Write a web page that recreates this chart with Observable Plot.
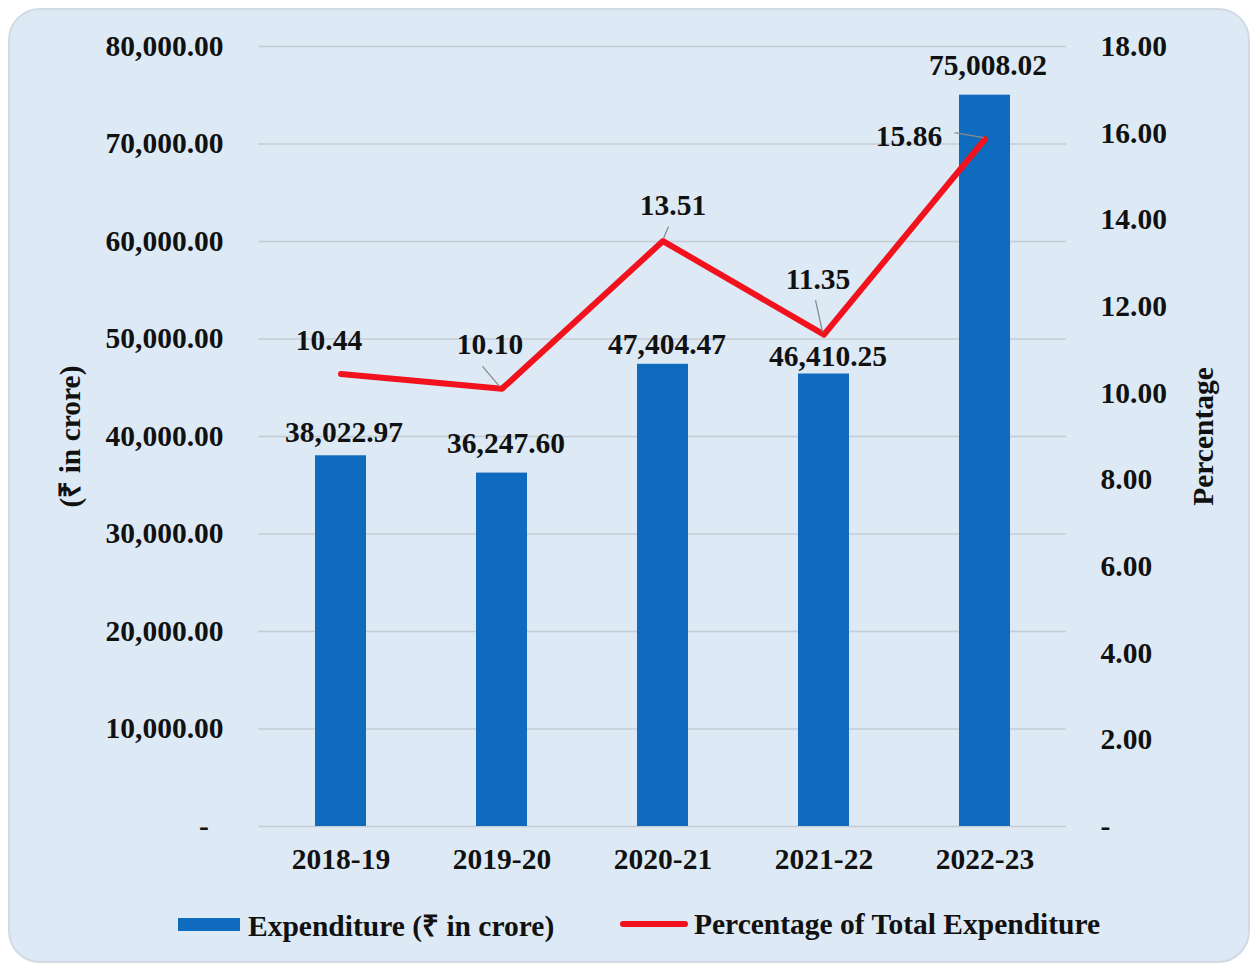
<!DOCTYPE html>
<html><head><meta charset="utf-8">
<script src="https://cdn.jsdelivr.net/npm/d3@7"></script>
<script src="https://cdn.jsdelivr.net/npm/@observablehq/plot@0.6"></script>
<style>
html,body{margin:0;padding:0;background:#fff;}
body{width:1256px;height:967px;overflow:hidden;position:relative;font-family:"Liberation Serif","Times New Roman",serif;}
#panel{position:absolute;left:8px;top:8px;width:1238px;height:951px;background:#dde9f5;border:2px solid #d2dae3;border-radius:32px;}
#chart{position:absolute;left:0;top:0;}
.lg{position:absolute;top:904px;height:40px;display:flex;align-items:center;font-size:29.5px;font-weight:bold;color:#111;white-space:nowrap;}
.sw-bar{width:62px;height:13px;margin-right:8px;}
.sw-line{width:68px;height:6px;border-radius:3px;margin-right:6px;}
</style></head><body>
<div id="panel"></div>
<div id="chart"></div>
<div class="lg" id="lg0" style="left:178px"><div class="sw-bar" id="sw0"></div><span id="t0"></span></div>
<div class="lg" id="lg1" style="left:620px"><div class="sw-line" id="sw1"></div><span id="t1"></span></div>
<script>
// ---- data ----
const years = ["2018-19", "2019-20", "2020-21", "2021-22", "2022-23"];
const expenditure = [38022.97, 36247.60, 47404.47, 46410.25, 75008.02];
const percentage = [10.44, 10.10, 13.51, 11.35, 15.86];
const leftTicks = [0, 10000, 20000, 30000, 40000, 50000, 60000, 70000, 80000];
const rightTicks = [0, 2, 4, 6, 8, 10, 12, 14, 16, 18];
const seriesNames = ["Expenditure (\u20B9 in crore)", "Percentage of Total Expenditure"];
const leftTitle = "(\u20B9 in crore)";
const rightTitle = "Percentage";

// ---- layout config ----
const barColor = "#0f6bbd";
const lineColor = "#f2121e";
const barLabelOffsets = [[3,-23],[4,-30],[4,-20],[4,-17],[3,-30]];
const pctLabelOffsets = [[-12,-34],[-12,-44],[10,-36],[-6,-55],[-76,-3]];
const leaderOffsets = [null, [[-19,-22],[-2,-2]], [[6,-14],[1,-2]], [[-8,-34],[-1,-2]], [[-30,-6],[-1,-1]]];
const fs = 29.5;

const k = 80000 / 18;
const data = years.map((year, i) => ({year, exp: expenditure[i], pct: percentage[i], pctY: percentage[i] * k}));
const fmt = d3.format(",.2f");

function leaders(index, scales) {
  const x = scales.x, y = scales.y;
  const bw = x.bandwidth ? x.bandwidth() : 0;
  const g = d3.create("svg:g");
  data.forEach((d, i) => {
    const o = leaderOffsets[i];
    if (!o) return;
    const px = x(d.year) + bw / 2, py = y(d.pctY);
    g.append("line")
      .attr("x1", px + o[0][0]).attr("y1", py + o[0][1])
      .attr("x2", px + o[1][0]).attr("y2", py + o[1][1])
      .attr("stroke", "#8c8c8c").attr("stroke-width", 1.3);
  });
  return g.node();
}

const chart = Plot.plot({
  width: 1256, height: 900,
  marginTop: 46, marginBottom: 74, marginLeft: 258, marginRight: 190,
  style: {background: "transparent", fontFamily: "'Liberation Serif', 'Times New Roman', serif", fontSize: fs + "px", fontWeight: "bold", color: "#111", overflow: "visible"},
  x: {domain: years, paddingInner: 0.684, paddingOuter: 0.342},
  y: {domain: [0, 80000]},
  marks: [
    Plot.gridY(leftTicks, {stroke: "#c5ccd4", strokeOpacity: 1, strokeWidth: 1.5}),
    Plot.axisX({tickSize: 0, tickPadding: 22, label: null}),
    Plot.axisY(leftTicks, {anchor: "left", tickSize: 0, tickPadding: 35,
      tickFormat: d => d === 0 ? "-\u00a0\u00a0" : fmt(d),
      label: leftTitle, labelAnchor: "center", labelOffset: 199, labelArrow: "none"}),
    Plot.axisY(rightTicks.map(p => p * k), {anchor: "right", tickSize: 0, tickPadding: 34,
      tickFormat: d => { const p = Math.round(d / k * 100) / 100; return p === 0 ? "-" : p.toFixed(2); },
      label: rightTitle, labelAnchor: "center", labelOffset: 146, labelArrow: "none"}),
    Plot.barY(data, {x: "year", y: "exp", fill: barColor}),
    Plot.line(data, {x: "year", y: "pctY", stroke: lineColor, strokeWidth: 6}),
    leaders,
    ...data.map((d, i) => Plot.text([d], {x: "year", y: "exp", text: e => fmt(e.exp), dx: barLabelOffsets[i][0], dy: barLabelOffsets[i][1], fontSize: fs, fontWeight: "bold", fill: "#111"})),
    ...data.map((d, i) => Plot.text([d], {x: "year", y: "pctY", text: e => e.pct.toFixed(2), dx: pctLabelOffsets[i][0], dy: pctLabelOffsets[i][1], fontSize: fs, fontWeight: "bold", fill: "#111"}))
  ]
});
document.getElementById("chart").appendChild(chart);
document.getElementById("t0").textContent = seriesNames[0];
document.getElementById("t1").textContent = seriesNames[1];
document.getElementById("sw0").style.background = barColor;
document.getElementById("sw1").style.background = lineColor;
</script>
</body></html>
